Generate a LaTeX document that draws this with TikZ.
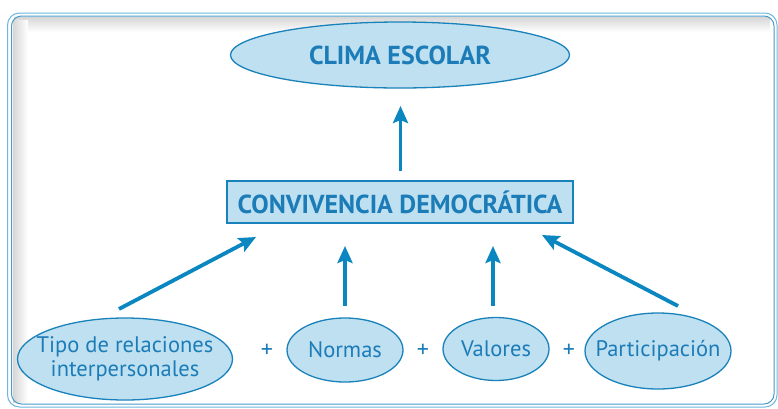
\documentclass[tikz,border=0pt]{standalone}
\usepackage{fontspec}
\setmainfont{PT Sans}
\usetikzlibrary{shapes.geometric,arrows.meta}
\definecolor{fillblue}{HTML}{BEE0F0}
\definecolor{lineblue}{HTML}{1A82BA}
\definecolor{textblue}{HTML}{1C7CB8}
\definecolor{arrowblue}{HTML}{0A86C0}
\definecolor{frameout}{HTML}{6CB8DE}
\tikzset{
  oval/.style={ellipse, draw=lineblue, fill=fillblue, line width=1.3pt, inner sep=0pt},
  ovaltext/.style={text=textblue, align=center, font=\fontsize{22.5}{24}\selectfont},
  titlebox/.style={rectangle, draw=lineblue, fill=fillblue, line width=1.3pt, inner sep=0pt, text=textblue},
  uparrow/.style={draw=arrowblue, line width=3.8pt, -{Stealth[length=17pt,width=15pt,inset=3pt]}},
  plus/.style={text=textblue, font=\fontsize{24}{24}\selectfont}
}
\begin{document}
\begin{tikzpicture}[x=1pt,y=-1pt]
\useasboundingbox (0,0) rectangle (778,408);
\fill[white] (0,0) rectangle (778,408);
% frame shadow
\shade[top color=black!16, bottom color=white] (14,17) rectangle (770,32);
\shade[left color=black!16, right color=white] (13,20) rectangle (28,402);
\draw[frameout, line width=1pt, rounded corners=12pt] (7.5,13) rectangle (777,407);
\draw[lineblue!80, line width=1pt, rounded corners=10pt] (11.5,16) rectangle (774,404);
% nodes
\node[oval, minimum width=339pt, minimum height=66pt, label={[text=textblue, font=\bfseries\fontsize{26}{26}\selectfont]center:CLIMA ESCOLAR}] (clima) at (400,55) {};
\node[titlebox, minimum width=346pt, minimum height=42pt, font=\bfseries\fontsize{26}{26}\selectfont] (conv) at (400,202) {CONVIVENCIA DEMOCRÁTICA};
\node[oval, minimum width=215pt, minimum height=82pt, label={[ovaltext]center:Tipo de relaciones\\interpersonales}] (tipo) at (125,359) {};
\node[oval, minimum width=116pt, minimum height=64pt, label={[ovaltext]center:Normas}] (normas) at (345,350) {};
\node[oval, minimum width=106pt, minimum height=63pt, label={[ovaltext]center:Valores}] (valores) at (496,349) {};
\node[oval, minimum width=146pt, minimum height=76pt, label={[ovaltext]center:Participación}] (part) at (658,351) {};
\node[plus] (p1) at (267,351) {+};
\node[plus] (p2) at (423,351) {+};
\node[plus] (p3) at (569,351) {+};
% arrow ends
\coordinate (a0s) at (400.5,171);
\coordinate (a0e) at (400.5,106);
\coordinate (a1s) at (119,309);
\coordinate (a1e) at (256,237);
\coordinate (a2s) at (345,306);
\coordinate (a2e) at (345,246);
\coordinate (a3s) at (493,306);
\coordinate (a3e) at (493,246);
\coordinate (a4s) at (678,306);
\coordinate (a4e) at (542,235);
\draw[uparrow] (a0s) -- (a0e);
\draw[uparrow] (a1s) -- (a1e);
\draw[uparrow] (a2s) -- (a2e);
\draw[uparrow] (a3s) -- (a3e);
\draw[uparrow] (a4s) -- (a4e);
\end{tikzpicture}
\end{document}
